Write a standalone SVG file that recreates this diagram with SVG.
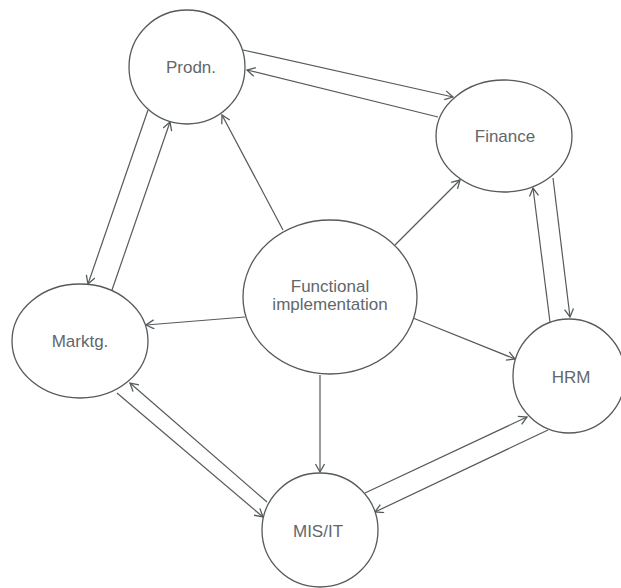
<svg xmlns="http://www.w3.org/2000/svg" width="621" height="588" viewBox="0 0 621 588">
  <style>
    .node { fill: #ffffff; stroke: #555a5c; stroke-width: 1.3; }
    .label { font-family: "Liberation Sans", Arial, sans-serif; font-size: 17px; fill: #63676a; text-anchor: middle; }
    .edge { stroke: #555a5c; stroke-width: 1.2; fill: none; marker-end: url(#open); }
  </style>
  <defs>
    <marker id="open" markerUnits="userSpaceOnUse" markerWidth="12" markerHeight="12" refX="9" refY="5" orient="auto">
      <path d="M1,0.5 L9,5 L1,9.5" fill="none" stroke="#555a5c" stroke-width="1.3"/>
    </marker>
  </defs>
  <rect width="621" height="588" fill="#ffffff"/>

  <g id="connectors">
    <!-- Prodn. <-> Finance -->
    <line class="edge" x1="243" y1="50" x2="453" y2="97"/>
    <line class="edge" x1="438" y1="117" x2="247" y2="70"/>
    <!-- Prodn. <-> Marktg. -->
    <line class="edge" x1="148" y1="110" x2="88" y2="284"/>
    <line class="edge" x1="112" y1="290" x2="170" y2="122"/>
    <!-- Functional implementation to each function -->
    <line class="edge" x1="283" y1="230" x2="222" y2="115"/>
    <line class="edge" x1="395" y1="245" x2="460" y2="180"/>
    <line class="edge" x1="245" y1="317" x2="146" y2="325"/>
    <line class="edge" x1="413" y1="318" x2="515" y2="359"/>
    <line class="edge" x1="320" y1="375" x2="320" y2="472"/>
    <!-- Finance <-> HRM -->
    <line class="edge" x1="550" y1="322" x2="533" y2="188"/>
    <line class="edge" x1="553" y1="178" x2="570" y2="317"/>
    <!-- Marktg. <-> MIS/IT -->
    <line class="edge" x1="267" y1="502" x2="130" y2="383"/>
    <line class="edge" x1="117" y1="393" x2="263" y2="517"/>
    <!-- MIS/IT <-> HRM -->
    <line class="edge" x1="365" y1="493" x2="527" y2="417"/>
    <line class="edge" x1="548" y1="430" x2="375" y2="512"/>
  </g>

  <g id="prodn">
    <ellipse class="node" cx="187" cy="67" rx="58" ry="57"/>
    <text class="label" x="191" y="73">Prodn.</text>
  </g>
  <g id="finance">
    <ellipse class="node" cx="504" cy="136" rx="68" ry="56"/>
    <text class="label" x="505" y="142">Finance</text>
  </g>
  <g id="functional">
    <ellipse class="node" cx="330" cy="297" rx="87" ry="77"/>
    <text class="label" x="330" y="292">Functional</text>
    <text class="label" x="330" y="310">implementation</text>
  </g>
  <g id="marktg">
    <ellipse class="node" cx="80" cy="341" rx="68" ry="57"/>
    <text class="label" x="80" y="347">Marktg.</text>
  </g>
  <g id="hrm">
    <ellipse class="node" cx="569" cy="376" rx="56" ry="57"/>
    <text class="label" x="571" y="383">HRM</text>
  </g>
  <g id="misit">
    <ellipse class="node" cx="320" cy="530" rx="58" ry="57"/>
    <text class="label" x="318" y="537">MIS/IT</text>
  </g>
</svg>
